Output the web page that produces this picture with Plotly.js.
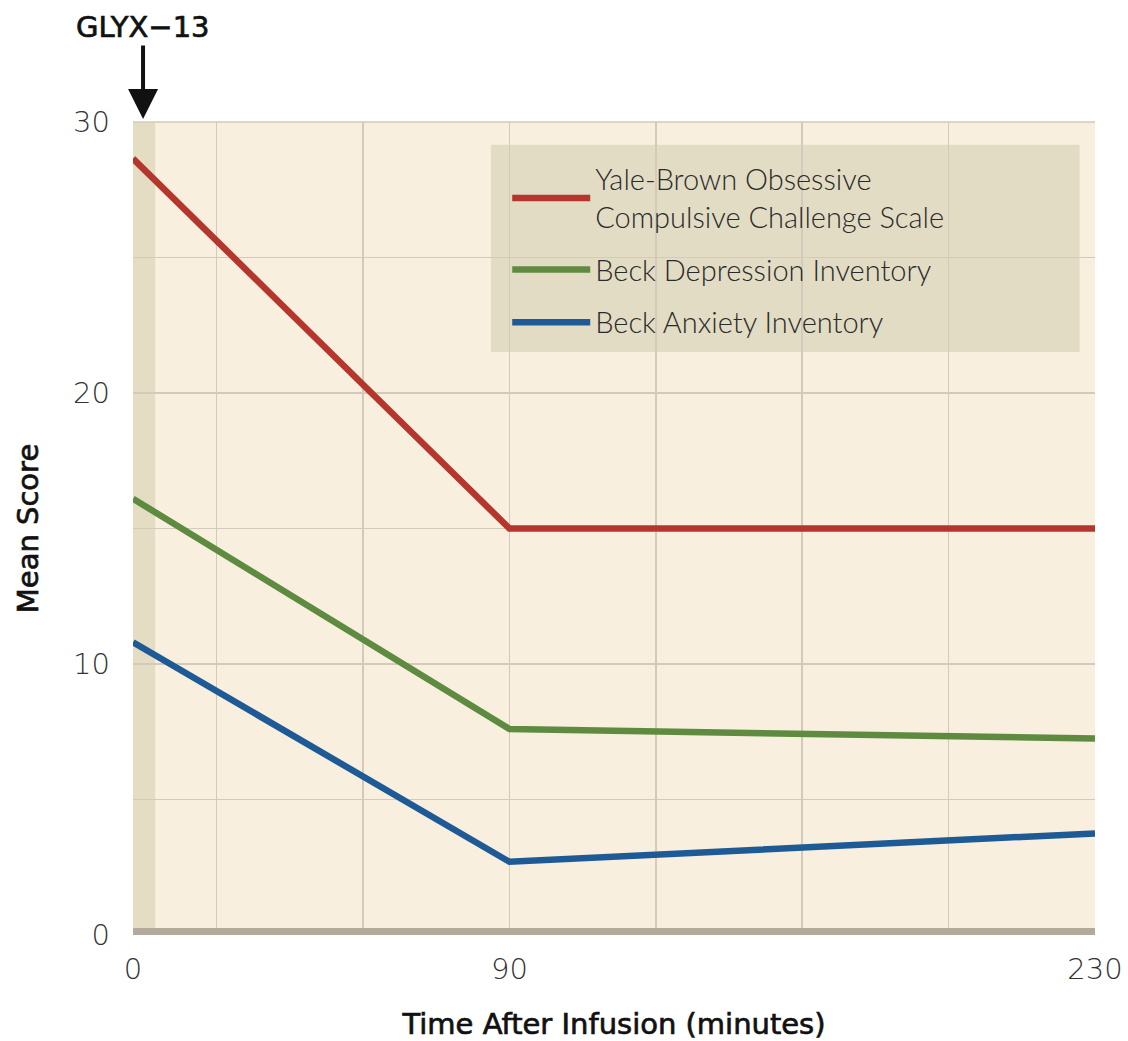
<!DOCTYPE html>
<html><head><meta charset="utf-8">
<script src="https://cdn.plot.ly/plotly-3.0.1.min.js"></script>
<style>html,body{margin:0;padding:0;background:#fff}#chart{width:1128px;height:1041px}
.xtitle,.ytitle,.annotation-text{stroke:#111;stroke-width:0.7px;}
</style>
</head><body><div id="chart"></div>
<script>
const timeMinutes = [0, 90, 230];
const ybocsScores = [28.65, 15.0, 15.0];
const bdiScores = [16.1, 7.6, 7.25];
const baiScores = [10.8, 2.7, 3.75];
const seriesNames = ['Yale-Brown Obsessive<br>Compulsive Challenge Scale', 'Beck Depression Inventory', 'Beck Anxiety Inventory'];
const seriesColors = ['#b5362c', '#5f8b41', '#1e5b96'];
const xTickVals = [0, 90, 230];
const yTickVals = [0, 10, 20, 30];

const lightFont = 'Lato, "Open Sans", sans-serif';
const tickFontFam = '"DejaVu Sans", sans-serif';
const boldFont = '"DejaVu Sans", "Open Sans", sans-serif';
const traces = [ybocsScores, bdiScores, baiScores].map((ys, i) => ({
  type: 'scatter', mode: 'lines', x: timeMinutes, y: ys, name: seriesNames[i],
  legendgroup: 'g' + i,
  line: {color: seriesColors[i], width: 6.5}
}));

const gridColor = '#d4cabb';
const layout = {
  width: 1128, height: 1041,
  margin: {l: 133, r: 33, t: 122, b: 106},
  paper_bgcolor: '#ffffff', plot_bgcolor: '#f8efdf',
  showlegend: true,
  legend: {x: 0.389, y: 0.961, xanchor: 'left', yanchor: 'top', bgcolor: 'rgba(0,0,0,0)',
    font: {family: lightFont, size: 29, color: '#2a2a2a', weight: 300}, itemwidth: 78,
    traceorder: 'grouped', tracegroupgap: 12, borderwidth: 0},
  xaxis: {range: [0, 230], tickmode: 'array', tickvals: xTickVals,
    showgrid: true, gridcolor: gridColor, gridwidth: 1.5, zeroline: false, showline: false, ticks: '',
    minor: {tickmode: 'linear', tick0: 20, dtick: 35, showgrid: true, gridcolor: gridColor, gridwidth: 1.5, ticks: ''},
    ticklabelstandoff: 14,
    tickfont: {family: tickFontFam, size: 29, color: '#333', weight: 200},
    title: {text: 'Time After Infusion (minutes)', standoff: 28, font: {family: boldFont, size: 29, color: '#111', weight: 400}}},
  yaxis: {range: [0, 30], tickmode: 'array', tickvals: yTickVals,
    showgrid: true, gridcolor: gridColor, gridwidth: 1.5, zeroline: false, showline: false, ticks: '',
    minor: {tickmode: 'linear', tick0: 0, dtick: 5, showgrid: true, gridcolor: gridColor, gridwidth: 1.5, ticks: ''},
    ticklabelstandoff: 22,
    tickfont: {family: tickFontFam, size: 29, color: '#333', weight: 200},
    title: {text: 'Mean Score', standoff: 25, font: {family: boldFont, size: 29, color: '#111', weight: 400}}},
  shapes: [
    {type: 'rect', xref: 'x', yref: 'paper', x0: 0, x1: 5.3, y0: 0, y1: 1, fillcolor: '#e4ddc3', line: {width: 0}, layer: 'below'},
    {type: 'rect', xref: 'paper', yref: 'paper', x0: 0.372, x1: 0.984, y0: 0.717, y1: 0.972, fillcolor: '#e2dcc4', line: {width: 0}, layer: 'below'},
    {type: 'line', xref: 'x', yref: 'y', x0: 0, x1: 230, y0: 0, y1: 0, line: {color: '#b4aa9c', width: 14}, layer: 'above'},
    {type: 'line', xref: 'paper', yref: 'paper', x0: 0, x1: 1, y0: 1, y1: 1, line: {color: gridColor, width: 1.5}, layer: 'below'}
  ],
  annotations: [
    {xref: 'x', yref: 'paper', x: 2.4, y: 1, text: 'GLYX−13', showarrow: true, ax: 0, ay: -95,
     arrowhead: 2, arrowsize: 1.5, arrowwidth: 4, arrowcolor: '#111', standoff: 3,
     font: {family: boldFont, size: 29, color: '#111', weight: 400}}
  ]
};

Plotly.newPlot('chart', traces, layout, {displayModeBar: false, staticPlot: true});
</script></body></html>
